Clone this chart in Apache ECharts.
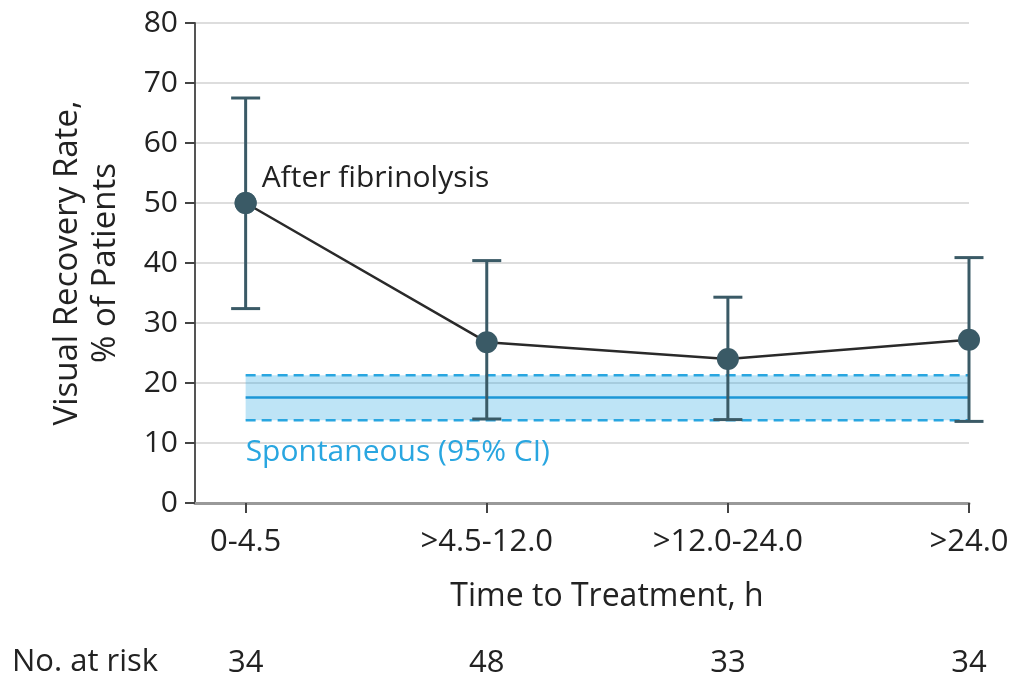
<!DOCTYPE html>
<html>
<head>
<meta charset="utf-8">
<script src="https://cdn.jsdelivr.net/npm/echarts@6/dist/echarts.min.js"></script>
<style>
html,body{margin:0;padding:0;background:#fff;}
#c{width:1015px;height:679px;}
</style>
</head>
<body>
<div id="c"></div>
<script>
// ---- data ----
var categories = ['0-4.5', '>4.5-12.0', '>12.0-24.0', '>24.0'];
var recoveryRate = [50.0, 26.8, 24.0, 27.2];
var ciLower = [32.4, 14.0, 13.9, 13.6];
var ciUpper = [67.5, 40.4, 34.3, 40.9];
var atRisk = [34, 48, 33, 34];
var spontaneousRate = 17.6;
var spontaneousLower = 13.8;
var spontaneousUpper = 21.3;

var FONT = '"Open Sans", "Noto Sans", sans-serif';
var DARK = '#3a5a66';
var BLUE = '#29a6e0';
var TXT = '#222';

var idx = categories.map(function (c, i) { return i; });
var pointData = recoveryRate.map(function (v, i) { return [i, v]; });
var errData = idx.map(function (i) { return [i, ciLower[i], ciUpper[i]]; });
var bandData = [[0, categories.length - 1, spontaneousLower, spontaneousRate, spontaneousUpper]];

var chart = echarts.init(document.getElementById('c'), null, { renderer: 'canvas' });

var option = {
  animation: false,
  backgroundColor: '#fff',
  textStyle: { fontFamily: FONT },
  grid: { left: 195, right: 46, top: 23, bottom: 176, containLabel: false },
  xAxis: [{
    type: 'value',
    min: -0.21,
    max: 3,
    name: 'Time to Treatment, h',
    nameLocation: 'middle',
    nameGap: 78,
    nameTextStyle: { fontFamily: FONT, fontSize: 32, color: TXT, padding: [0, 0, 0, 50] },
    axisLine: { show: true, onZero: false, lineStyle: { color: '#999', width: 3 } },
    axisTick: { show: true, customValues: idx, length: 10, lineStyle: { color: '#444', width: 2 } },
    axisLabel: {
      customValues: idx,
      margin: 24,
      fontFamily: FONT, fontSize: 31, color: TXT,
      formatter: function (v) { return categories[Math.round(v)]; }
    },
    splitLine: { show: false }
  }, {
    type: 'value',
    min: -0.21,
    max: 3,
    position: 'bottom',
    axisLine: { show: false, onZero: false },
    axisTick: { show: false },
    axisLabel: {
      customValues: idx,
      margin: 145,
      fontFamily: FONT, fontSize: 31, color: TXT,
      formatter: function (v) { return String(atRisk[Math.round(v)]); }
    },
    splitLine: { show: false }
  }],
  yAxis: {
    type: 'value',
    min: 0,
    max: 80,
    interval: 10,
    name: 'Visual Recovery Rate,\n% of Patients',
    nameLocation: 'middle',
    nameGap: 70,
    nameTextStyle: { fontFamily: FONT, fontSize: 33, color: TXT, lineHeight: 38, align: 'center' },
    axisLine: { show: true, onZero: false, lineStyle: { color: '#555', width: 2 } },
    axisTick: { show: true, length: 10, lineStyle: { color: '#444', width: 2 } },
    axisLabel: { margin: 17, fontFamily: FONT, fontSize: 30, color: TXT },
    splitLine: { show: true, lineStyle: { color: '#dddddd', width: 2 } }
  },
  graphic: [{
    type: 'text',
    left: 12,
    top: 647,
    style: { text: 'No. at risk', fontFamily: FONT, fontSize: 31, fill: TXT }
  }],
  series: [{
    type: 'custom',
    name: 'Spontaneous',
    data: bandData,
    z: 1,
    renderItem: function (params, api) {
      var x0 = api.value(0), x1 = api.value(1);
      var lo = api.value(2), mid = api.value(3), hi = api.value(4);
      var pTL = api.coord([x0, hi]);
      var pBR = api.coord([x1, lo]);
      var pM0 = api.coord([x0, mid]), pM1 = api.coord([x1, mid]);
      var pL0 = api.coord([x0, lo]);
      return {
        type: 'group',
        children: [{
          type: 'rect',
          shape: { x: pTL[0], y: pTL[1], width: pBR[0] - pTL[0], height: pBR[1] - pTL[1] },
          style: { fill: 'rgba(41,166,224,0.3)' }
        }, {
          type: 'line',
          shape: { x1: pTL[0], y1: pTL[1], x2: pBR[0], y2: pTL[1] },
          style: { stroke: BLUE, lineWidth: 2.5, lineDash: [10, 6] }
        }, {
          type: 'line',
          shape: { x1: pTL[0], y1: pBR[1], x2: pBR[0], y2: pBR[1] },
          style: { stroke: BLUE, lineWidth: 2.5, lineDash: [10, 6] }
        }, {
          type: 'line',
          shape: { x1: pM0[0], y1: pM0[1], x2: pM1[0], y2: pM1[1] },
          style: { stroke: '#1c97d6', lineWidth: 2.5 }
        }, {
          type: 'text',
          x: pL0[0],
          y: pL0[1] + 32,
          style: { text: 'Spontaneous (95% CI)', fontFamily: FONT, fontSize: 30, fill: BLUE, align: 'left', verticalAlign: 'middle' }
        }]
      };
    }
  }, {
    type: 'custom',
    name: 'CI',
    data: errData,
    z: 3,
    renderItem: function (params, api) {
      var x = api.value(0);
      var pLo = api.coord([x, api.value(1)]);
      var pHi = api.coord([x, api.value(2)]);
      var w = 14.5;
      var st = { stroke: DARK, lineWidth: 3 };
      return {
        type: 'group',
        children: [
          { type: 'line', shape: { x1: pLo[0], y1: pLo[1], x2: pHi[0], y2: pHi[1] }, style: st },
          { type: 'line', shape: { x1: pLo[0] - w, y1: pLo[1], x2: pLo[0] + w, y2: pLo[1] }, style: st },
          { type: 'line', shape: { x1: pHi[0] - w, y1: pHi[1], x2: pHi[0] + w, y2: pHi[1] }, style: st }
        ]
      };
    }
  }, {
    type: 'line',
    name: 'After fibrinolysis',
    data: pointData,
    z: 4,
    symbol: 'circle',
    symbolSize: 22,
    lineStyle: { color: '#2a2a2a', width: 2.5 },
    itemStyle: { color: DARK, borderWidth: 0 },
    label: { show: false }
  }, {
    type: 'scatter',
    name: 'label',
    data: [{
      value: pointData[0],
      label: {
        show: true,
        formatter: 'After fibrinolysis',
        position: 'right',
        distance: 5,
        offset: [0, -25],
        fontFamily: FONT, fontSize: 30, color: TXT
      }
    }],
    symbolSize: 22,
    itemStyle: { color: DARK, opacity: 1 },
    z: 5
  }]
};
chart.setOption(option);
</script>
</body>
</html>
